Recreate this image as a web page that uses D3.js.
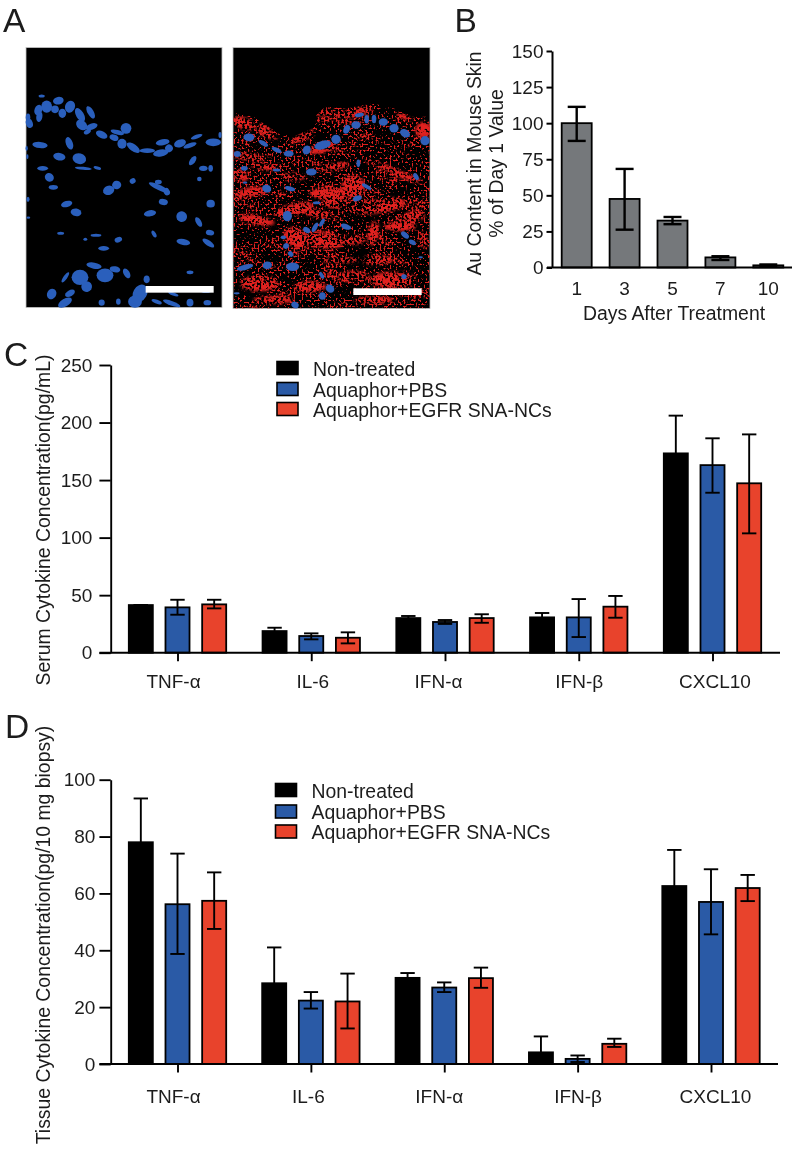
<!DOCTYPE html>
<html><head><meta charset="utf-8">
<style>html,body{margin:0;padding:0;background:#fff}svg{display:block;filter:blur(.35px)}text{font-family:"Liberation Sans",Arial,sans-serif;fill:#1c1c1c}</style>
<script src="https://cdn.jsdelivr.net/npm/d3@7/dist/d3.min.js"></script>
</head><body><svg id="c" width="796" height="1150"></svg>
<script>
// ---------- Panel B data ----------
const bDays=["1","3","5","7","10"];
const bValues=[100,47.5,32.5,7,1.5];
const bErrHi=[111.3,68.3,35,7.8,2.1];
const bErrLo=[87.7,26.2,30,5.2,0.9];
const bTicks=[0,25,50,75,100,125,150];
// ---------- Panel C / D data ----------
const cytokines=["TNF-α","IL-6","IFN-α","IFN-β","CXCL10"];
const treatments=["Non-treated","Aquaphor+PBS","Aquaphor+EGFR SNA-NCs"];
const treatmentColors=["#000000","#2a5aa6","#e8432c"];
const cValues=[[41.4,18.8,30.1,30.7,173.2],[39.4,14.5,26.7,30.7,163],[42,13,30.1,40,147.2]];
const cErrHi=[[41.4,21.7,31.9,34.5,206],[46,16.8,28.4,46.6,186.3],[46,17.7,33.4,49.3,189.7]];
const cErrLo=[[41.4,16,28.5,27,140],[33,11.6,25,13.6,139],[38.5,8.1,26,30.4,103.7]];
const cTicks=[0,50,100,150,200,250];
const dValues=[[78,28.4,30.3,4.1,62.6],[56.2,22.3,26.9,1.8,57],[57.4,22,30.2,7.1,61.9]];
const dErrHi=[[93.4,41,32,9.7,75.3],[74,25.3,28.7,3,68.5],[67.4,31.8,33.9,8.9,66.5]];
const dErrLo=[[63,16,29,0,50],[38.7,19.5,25.3,0.7,45.6],[47.5,12.5,26.8,6,57.3]];
const dTicks=[0,20,40,60,80,100];
// ---------- Panel A: hand-traced micrograph shapes [x,y,rx,ry,angle] in 3x-zoom units ----------
const leftNuclei=[[125,288,8,4,0],[175,302,14,10,-10],[140,320,14,16,0],[115,330,10,14,20],[165,328,10,10,0],[187,340,10,12,0],[210,320,13,16,20],[272,337,8,18,-30],[118,350,8,14,10],[88,370,9,12,-20],[84,352,6,10,0],[240,345,10,20,-30],[245,375,16,12,40],[275,380,16,8,-20],[262,395,10,6,-30],[305,404,16,9,25],[352,397,18,6,15],[378,385,14,14,0],[342,413,12,8,20],[366,431,12,13,0],[400,443,20,9,35],[442,452,20,6,0],[482,459,20,9,-10],[488,427,18,8,-10],[507,445,10,10,-40],[540,430,16,10,-20],[570,436,18,6,-20],[590,410,16,5,-20],[640,427,20,10,0],[660,405,4,8,0],[120,435,20,8,5],[208,430,9,17,-20],[178,470,16,10,10],[238,476,18,14,15],[250,505,22,4,5],[292,504,10,4,15],[128,505,14,6,0],[148,532,12,11,30],[160,562,12,6,0],[578,482,7,14,35],[610,505,11,7,0],[632,505,6,9,0],[598,537,6,6,0],[326,571,15,12,-20],[350,555,12,11,-10],[398,543,8,7,-30],[475,546,9,6,0],[478,563,30,7,25],[500,575,10,8,60],[490,606,12,8,10],[632,611,11,10,0],[200,612,15,8,-15],[228,637,14,10,10],[450,640,16,8,-10],[545,650,14,14,15],[596,666,7,14,-30],[630,698,11,7,10],[625,729,18,7,35],[550,726,18,8,10],[462,702,5,10,-30],[182,700,9,4,0],[288,706,14,4,0],[256,718,5,4,0],[355,719,10,7,-20],[311,745,14,6,0],[570,817,9,5,0],[84,598,4,7,0],[85,653,5,3,0],[80,445,3,7,0],[82,470,3,6,0],[240,832,22,20,0],[196,832,5,16,35],[282,797,20,8,10],[315,826,22,18,0],[345,808,14,8,10],[260,860,14,14,30],[155,882,12,14,30],[210,880,14,8,-30],[195,908,20,10,-30],[380,820,8,14,-30],[420,880,18,24,30],[440,838,8,10,0],[405,905,18,16,0],[355,905,6,8,0],[305,908,8,8,0],[470,905,14,5,20],[515,910,24,6,20],[570,908,9,10,0],[622,908,10,7,0],[618,870,16,8,0],[520,882,14,4,20]];
const rightNuclei=[[747,412,14,10,0],[790,430,14,6,30],[830,450,14,6,25],[866,461,13,8,0],[920,450,10,12,30],[968,435,22,11,-15],[1008,418,12,12,0],[1040,388,8,12,25],[1068,375,12,10,0],[1100,358,6,11,0],[1122,357,6,11,0],[1150,366,12,10,0],[1182,385,12,11,0],[1215,400,14,10,30],[1275,422,12,12,0],[1078,345,12,5,-10],[712,462,9,8,0],[733,505,9,6,0],[934,516,14,9,0],[1075,490,5,10,0],[1248,530,6,10,-30],[1100,560,14,5,30],[800,566,12,10,20],[870,566,14,6,15],[1072,595,12,7,-20],[950,608,10,4,0],[862,648,12,14,0],[966,668,5,12,30],[945,682,6,14,30],[920,690,10,7,30],[1038,680,14,7,20],[1215,705,12,7,40],[1237,727,10,6,30],[850,712,7,5,0],[858,738,7,8,40],[872,762,8,6,50],[735,802,22,7,-15],[802,796,12,10,-10],[878,800,17,11,0],[965,826,5,10,-30],[990,866,12,10,40],[967,888,9,10,0],[1212,830,7,6,0],[885,915,10,8,30],[710,880,8,3,0],[1262,772,6,3,0],[830,510,10,4,0],[735,548,6,3,0]];
const redStreaks=[[1210,350,22,6,25],[970,335,25,12,0],[1060,340,50,10,-10],[730,370,30,15,20],[800,400,30,10,25],[910,410,35,10,-25],[970,445,35,12,-15],[740,470,40,10,10],[720,525,22,14,30],[790,500,35,8,10],[760,575,40,12,-5],[1060,560,30,30,20],[990,580,50,16,0],[1010,610,35,14,0],[1100,620,80,18,0],[1180,610,30,15,0],[1240,650,30,14,-10],[880,630,50,16,-15],[770,660,45,12,10],[950,640,40,10,10],[890,715,35,24,30],[970,720,50,20,10],[1060,720,30,12,0],[1120,700,14,30,10],[1200,680,40,12,0],[1150,500,50,8,20],[1220,530,40,8,20],[1000,500,40,10,-10],[880,530,30,10,0],[1130,780,40,12,0],[1020,780,50,8,0],[1180,840,60,20,0],[1060,830,40,14,0],[780,850,50,20,0],[930,860,40,14,0],[1240,880,40,12,0],[1120,900,50,10,0],[820,900,50,10,0],[1270,720,12,20,0],[1270,390,20,20,0]];
const tissueEdge=[[700,338],[760,350],[820,390],[875,412],[945,380],[950,345],[975,320],[1040,325],[1120,310],[1180,325],[1240,350],[1290,350],[1290,925],[700,925]];

const FS=19, TS=19.4;
const svg=d3.select("#c");
const defs=svg.append("defs");
const zx=d3.scaleLinear().domain([0,1320]).range([0,440]);
const zy=d3.scaleLinear().domain([0,960]).range([0,320]);
const zr=v=>v/3;

// micrograph grain: fine noise biased by a coarse, streaky noise, then thresholded to red
function grain(id,fine,coarse,gain,cut){
  const f=defs.append("filter").attr("id",id).attr("x",0).attr("y",0).attr("width","100%").attr("height","100%")
    .attr("color-interpolation-filters","sRGB");
  f.append("feTurbulence").attr("type","fractalNoise").attr("baseFrequency",fine).attr("numOctaves",1).attr("seed",3).attr("result","a0");
  f.append("feColorMatrix").attr("in","a0").attr("type","matrix").attr("values","1 0 0 0 0 1 0 0 0 0 1 0 0 0 0 0 0 0 0 1").attr("result","a");
  f.append("feTurbulence").attr("type","fractalNoise").attr("baseFrequency",coarse).attr("numOctaves",2).attr("seed",11).attr("result","b0");
  f.append("feColorMatrix").attr("in","b0").attr("type","matrix").attr("values","1 0 0 0 0 1 0 0 0 0 1 0 0 0 0 0 0 0 0 1").attr("result","b");
  f.append("feComposite").attr("in","a").attr("in2","b").attr("operator","arithmetic").attr("k1",0).attr("k2",.72).attr("k3",.28).attr("k4",0).attr("result","m");
  f.append("feColorMatrix").attr("in","m").attr("type","matrix")
    .attr("values",`0 0 0 0 0.88  0 0 0 0 0.13  0 0 0 0 0.12  ${gain} 0 0 0 ${cut}`);
}
grain("spSparse","0.5","0.035 0.07",14,-7.5);
grain("spDense","0.42","0.03 0.06",14,-6.4);
defs.append("filter").attr("id","soft").append("feGaussianBlur").attr("stdDeviation",1.6);
defs.append("clipPath").attr("id","tissue").append("polygon")
  .attr("points",tissueEdge.map(p=>[zx(p[0]),zy(p[1])].join(",")).join(" "));
const m=defs.append("mask").attr("id","streakMask").attr("maskUnits","userSpaceOnUse")
  .attr("x",0).attr("y",0).attr("width",796).attr("height",400);
m.append("g").attr("filter","url(#soft)").selectAll("ellipse").data(redStreaks).join("ellipse")
  .attr("transform",d=>`translate(${zx(d[0])},${zy(d[1])}) rotate(${d[4]})`)
  .attr("rx",d=>zr(d[2])*1.2).attr("ry",d=>zr(d[3])*1.2).attr("fill","#fff");

function nuclei(g,data,color){
  g.selectAll("ellipse.n").data(data).join("ellipse").attr("class","n")
    .attr("transform",d=>`translate(${zx(d[0])},${zy(d[1])}) rotate(${d[4]})`)
    .attr("rx",d=>zr(d[2])*1.15).attr("ry",d=>zr(d[3])*1.15).attr("fill",color);
}
// left image
const aL=svg.append("g");
aL.append("rect").attr("x",26).attr("y",47.5).attr("width",196).attr("height",260).attr("fill","#000").attr("stroke","#c4c4c4").attr("stroke-width",.8);
nuclei(aL,leftNuclei,"#2a5fbc");
aL.append("rect").attr("x",zx(437)).attr("y",zy(858)).attr("width",zr(204)).attr("height",zr(20)).attr("fill","#fff");
// right image
const aR=svg.append("g");
aR.append("rect").attr("x",233).attr("y",47.5).attr("width",197).attr("height",261).attr("fill","#000").attr("stroke","#c4c4c4").attr("stroke-width",.8);
const tissue=aR.append("g").attr("clip-path","url(#tissue)");
tissue.append("rect").attr("x",233).attr("y",100).attr("width",197).attr("height",209).attr("fill","#000").attr("filter","url(#spSparse)");
tissue.append("g").attr("mask","url(#streakMask)").append("rect").attr("x",233).attr("y",100).attr("width",197).attr("height",209).attr("fill","#000").attr("filter","url(#spDense)");
nuclei(aR,rightNuclei,"#2f5fb8");
aR.append("rect").attr("x",zx(1060)).attr("y",zy(865)).attr("width",zr(205)).attr("height",zr(20)).attr("fill","#fff");

// panel letters
[["A",3,32],["B",454.5,32],["C",4,366],["D",5,737.5]].forEach(l=>{
  svg.append("text").text(l[0]).attr("x",l[1]).attr("y",l[2]).attr("font-size",33.5);
});

function styleAxis(g,sw){
  g.selectAll("path,line").attr("stroke","#000").attr("stroke-width",sw);
  g.selectAll("text").attr("font-size",FS).attr("font-family",null).style("fill","#1c1c1c");
}
function errorBars(g,x,hi,lo,y,cap,sw){
  const e=g.selectAll("g.e").data(d3.range(x.length)).join("g").attr("class","e").attr("stroke","#000").attr("stroke-width",sw);
  e.append("line").attr("x1",i=>x[i]).attr("x2",i=>x[i]).attr("y1",i=>y(hi[i])).attr("y2",i=>y(lo[i]));
  e.append("line").attr("x1",i=>x[i]-cap).attr("x2",i=>x[i]+cap).attr("y1",i=>y(hi[i])).attr("y2",i=>y(hi[i]));
  e.append("line").attr("x1",i=>x[i]-cap).attr("x2",i=>x[i]+cap).attr("y1",i=>y(lo[i])).attr("y2",i=>y(lo[i]));
}

// ---------- Panel B ----------
(function(){
  const y=d3.scaleLinear().domain([0,150]).range([267.5,51]);
  const x=d3.scaleBand().domain(bDays).range([560.7,784.3]).paddingInner(.332);
  const g=svg.append("g");
  g.selectAll("rect").data(bDays).join("rect")
    .attr("x",d=>x(d)+1).attr("width",x.bandwidth()-2)
    .attr("y",(d,i)=>y(bValues[i])).attr("height",(d,i)=>y(0)-y(bValues[i]))
    .attr("fill","#75787b").attr("stroke","#000").attr("stroke-width",1.8);
  errorBars(g,bDays.map(d=>x(d)+x.bandwidth()/2),bErrHi,bErrLo,y,9,2.4);
  const ya=g.append("g").attr("transform","translate(552,0)")
    .call(d3.axisLeft(y).tickValues(bTicks).tickSize(5.5).tickSizeOuter(0).tickPadding(3));
  styleAxis(ya,2);
  g.append("line").attr("x1",547).attr("x2",792).attr("y1",y(0)).attr("y2",y(0)).attr("stroke","#000").attr("stroke-width",2);
  const xa=g.append("g").attr("transform",`translate(0,${y(0)})`)
    .call(d3.axisBottom(x).tickSize(0).tickPadding(14));
  xa.select("path").remove();
  styleAxis(xa,2);
  g.append("text").text("Au Content in Mouse Skin").attr("transform","translate(480.5,163.5) rotate(-90)").attr("text-anchor","middle").attr("font-size",TS);
  g.append("text").text("% of Day 1 Value").attr("transform","translate(503,163.5) rotate(-90)").attr("text-anchor","middle").attr("font-size",TS);
  g.append("text").text("Days After Treatment").attr("x",674).attr("y",320).attr("text-anchor","middle").attr("font-size",TS);
})();

// ---------- Panels C & D ----------
function groupedPanel(o){
  const y=d3.scaleLinear().domain(o.domain).range(o.yRange);
  const x=d3.scalePoint().domain(cytokines).range(o.xRange);
  const s=d3.scaleBand().domain(treatments).range([-49.7,49.7]).paddingInner(.29);
  const g=svg.append("g");
  treatments.forEach((t,k)=>{
    const sg=g.append("g");
    sg.selectAll("rect").data(cytokines).join("rect")
      .attr("x",c=>x(c)+s(t)+1).attr("width",s.bandwidth()-2)
      .attr("y",(c,i)=>y(o.values[k][i])).attr("height",(c,i)=>y(0)-y(o.values[k][i]))
      .attr("fill",treatmentColors[k]).attr("stroke","#000").attr("stroke-width",1.8);
    errorBars(sg,cytokines.map(c=>x(c)+s(t)+s.bandwidth()/2),o.hi[k],o.lo[k],y,7.2,1.9);
  });
  const ya=g.append("g").attr("transform","translate(110.7,0)")
    .call(d3.axisLeft(y).tickValues(o.ticks).tickSize(11.3).tickSizeOuter(0).tickPadding(o.tickPad));
  styleAxis(ya,1.9);
  g.append("line").attr("x1",99.4).attr("x2",o.axisEnd).attr("y1",y(0)).attr("y2",y(0)).attr("stroke","#000").attr("stroke-width",1.9);
  const xa=g.append("g").attr("transform",`translate(0,${y(0)})`)
    .call(d3.axisBottom(x).tickSize(8.5).tickSizeOuter(0).tickPadding(o.xPad));
  xa.select("path").remove();
  styleAxis(xa,1.9);
  xa.selectAll("text").attr("dx",(d,i)=>o.nudge[i]);
  g.append("text").text(o.title).attr("transform",`translate(50,${o.titleY}) rotate(-90)`).attr("text-anchor","middle").attr("font-size",TS);
  const lg=g.append("g").selectAll("g").data(treatments).join("g");
  lg.append("rect").attr("x",o.lx+1).attr("width",21).attr("y",(d,i)=>o.ly[i]-14).attr("height",13)
    .attr("fill",(d,i)=>treatmentColors[i]).attr("stroke","#000").attr("stroke-width",1.6);
  lg.append("text").text(d=>d).attr("x",o.lx+37).attr("y",(d,i)=>o.ly[i]).attr("font-size",TS);
}
groupedPanel({domain:[0,250],yRange:[652.7,365],xRange:[177.5,712.5],values:cValues,hi:cErrHi,lo:cErrLo,ticks:cTicks,
  title:"Serum Cytokine Concentration(pg/mL)",titleY:520,axisEnd:780,lx:276,ly:[375.5,396.5,416.5],nudge:[-4.5,1,-7,0,2],tickPad:7,xPad:13});
groupedPanel({domain:[0,100],yRange:[1064,779.7],xRange:[177.5,711],values:dValues,hi:dErrHi,lo:dErrLo,ticks:dTicks,
  title:"Tissue Cytokine Concentration(pg/10 mg biopsy)",titleY:935,axisEnd:778,lx:274.5,ly:[797.5,819,839],nudge:[-4.5,-3,-5.5,0,4],tickPad:4,xPad:17});
</script></body></html>
